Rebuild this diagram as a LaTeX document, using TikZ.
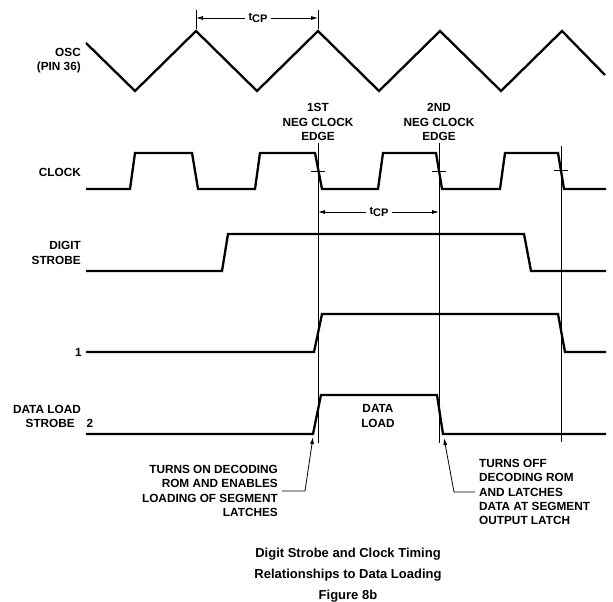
\documentclass[tikz,border=0pt]{standalone}
\usepackage{fontspec}
\setmainfont{Liberation Sans}
\usetikzlibrary{arrows.meta}
\begin{document}
\begin{tikzpicture}[x=1pt,y=-1pt,
  sig/.style={line width=2.3pt, line join=miter},
  thinl/.style={line width=0.8pt},
  lbl/.style={font=\fontsize{11.8}{14.2}\selectfont\bfseries, inner sep=0pt},
  tlbl/.style={font=\fontsize{11}{13}\selectfont\bfseries, inner sep=3pt},
  arr/.style={-{Latex[length=7pt,width=4pt]}, line width=0.8pt},
]
\useasboundingbox (0,0) rectangle (613,602);

% ---- labels at left
\node[lbl, anchor=east, align=right] (osc) at (81,61) {OSC\\(PIN 36)};
\node[lbl, anchor=east] (clk) at (81,172) {CLOCK};
\node[lbl, anchor=east, align=right] (ds) at (81,253) {DIGIT\\STROBE};
\node[lbl, anchor=east] (one) at (82,352) {1};
\node[lbl, anchor=east] (dla) at (81,409) {DATA LOAD};
\node[lbl, anchor=east] (dlb) at (75,423) {STROBE};
\node[lbl] (dltwo) at (90,423) {2};

% ---- edge labels
\node[lbl, align=center] (e1) at (318,122) {1ST\\NEG CLOCK\\EDGE};
\node[lbl, align=center] (e2) at (439,122) {2ND\\NEG CLOCK\\EDGE};
\node[lbl, align=center] (dlt) at (378,416) {DATA\\LOAD};

% ---- OSC waveform
\draw[sig] (86,43) -- (135,91) -- (196,31) -- (257,91) -- (318,31) -- (379,91)
  -- (440,31) -- (501,91) -- (562,31) -- (605,75);

% ---- top tCP
\draw[thinl] (196,10) -- (196,29);
\draw[thinl] (318,10) -- (318,29);
\node[tlbl] (tcpA) at (258,18) {t\raisebox{-2.5pt}{CP}};
\coordinate (tk1) at (196,18);
\coordinate (tk2) at (318,18);
\draw[arr] (tcpA.west) -- (tk1);
\draw[arr] (tcpA.east) -- (tk2);

% ---- clock
\draw[sig] (86,189) -- (130,189) -- (135,153) -- (192,153) -- (198,189) -- (255,189)
  -- (260,153) -- (315,153) -- (322,189) -- (378,189) -- (383,153) -- (436,153)
  -- (442,189) -- (500,189) -- (505,153) -- (558,153) -- (564,189) -- (606,189);
\draw[line width=1pt] (311,171) -- (325,171);
\draw[line width=1pt] (432,171) -- (446,171);
\draw[line width=1pt] (554,170) -- (568,170);

% ---- vertical reference lines
\draw[thinl] (318,143) -- (318,443);
\draw[thinl] (439,143) -- (439,443);
\draw[thinl] (561,146) -- (561,442);

% ---- second tCP
\node[tlbl] (tcpB) at (379,212) {t\raisebox{-2.5pt}{CP}};
\coordinate (v1m) at (318,212);
\coordinate (v2m) at (439,212);
\draw[arr] (tcpB.west) -- (v1m);
\draw[arr] (tcpB.east) -- (v2m);

% ---- digit strobe
\draw[sig] (86,271) -- (222,271) -- (228,234) -- (524,234) -- (531,271) -- (606,271);

% ---- signal 1
\draw[sig] (86,352) -- (314,352) -- (322,314) -- (558,314) -- (565,352) -- (606,352);

% ---- data load strobe 2
\draw[sig] (86,434) -- (313,434) -- (321,395) -- (437,395) -- (443,434) -- (606,434);

% ---- annotations
\node[lbl, align=right, anchor=east] (annL) at (278,491)
  {TURNS ON DECODING\\ROM AND ENABLES\\LOADING OF SEGMENT\\LATCHES};
\node[lbl, align=left, anchor=west] (annR) at (479,492)
  {TURNS OFF\\DECODING ROM\\AND LATCHES\\DATA AT SEGMENT\\OUTPUT LATCH};
\coordinate (kL) at (305,491);
\coordinate (tipL) at (313,437);
\draw[arr] ([xshift=4pt]annL.east) -- (kL) -- (tipL);
\coordinate (kR) at (454,492);
\coordinate (tipR) at (444,438);
\draw[arr] ([xshift=-4pt]annR.west) -- (kR) -- (tipR);

% ---- caption
\node[font=\fontsize{13}{21}\selectfont\bfseries, align=center, inner sep=0pt] (cap) at (348,575)
  {Digit Strobe and Clock Timing\\Relationships to Data Loading\\Figure 8b};
\end{tikzpicture}
\end{document}
